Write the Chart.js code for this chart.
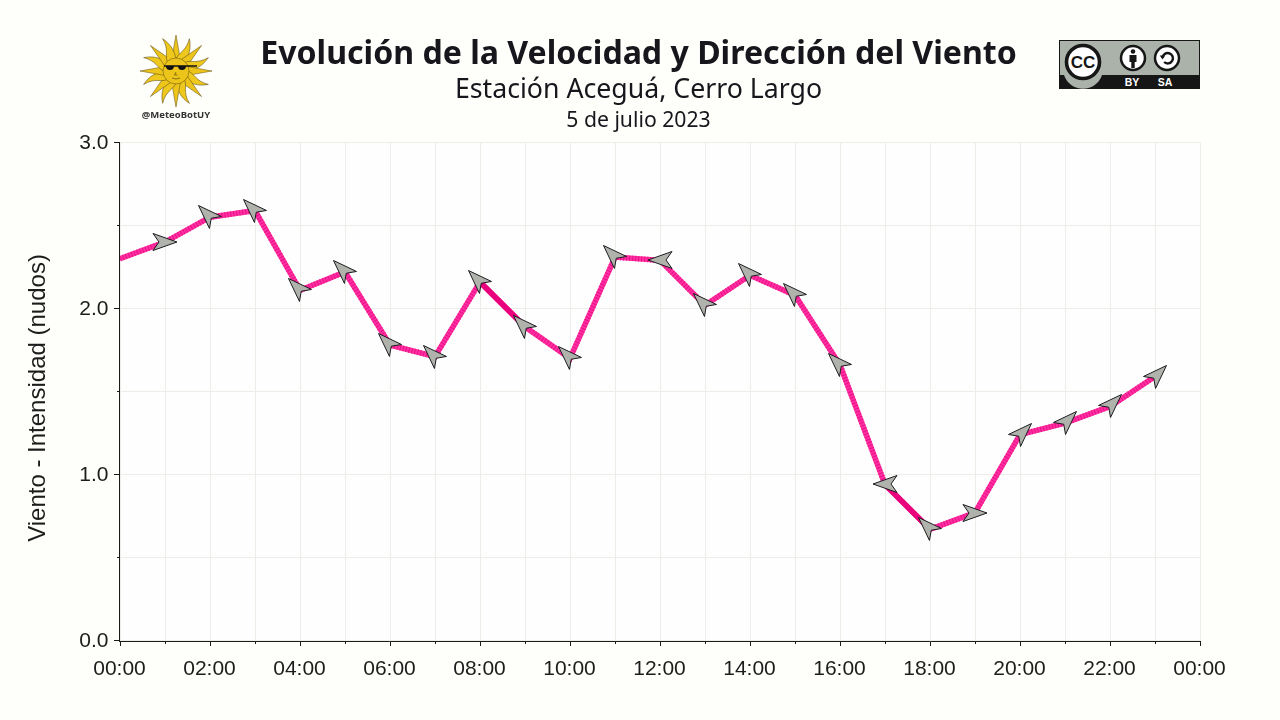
<!DOCTYPE html>
<html lang="es">
<head>
<meta charset="utf-8">
<title>Viento</title>
<script src="https://cdn.jsdelivr.net/npm/chart.js@4"></script>
<style>
  html, body { margin: 0; padding: 0; background: #fefefa; width: 1280px; height: 720px; overflow: hidden; }
  #grafico { position: absolute; left: 0; top: 0; }
  .txt { position: absolute; left: 0; width: 1277px; text-align: center; color: #16161c; font-family: "Noto Sans", sans-serif; white-space: nowrap; }
  #t1 { top: 30px; height: 44px; line-height: 44px; font-size: 32.1px; font-weight: 700; }
  #t2 { top: 70px; height: 36px; line-height: 36px; font-size: 26.7px; }
  #t3 { top: 105px; height: 28px; line-height: 28px; font-size: 21.2px; }
  #ejeY { position: absolute; left: 37px; top: 398px; width: 400px; height: 30px; line-height: 30px; margin: -15px 0 0 -200px; text-align: center;
          transform: rotate(-90deg); font: 24px "Liberation Sans", sans-serif; line-height: 30px; color: #1c1c1c; }
  svg { position: absolute; }
</style>
</head>
<body>
<canvas id="grafico" width="1280" height="720"></canvas>
<div class="txt" id="t1">Evolución de la Velocidad y Dirección del Viento</div>
<div class="txt" id="t2">Estación Aceguá, Cerro Largo</div>
<div class="txt" id="t3">5 de julio 2023</div>
<div id="ejeY">Viento - Intensidad (nudos)</div>

<svg id="sol" style="left:130px;top:30px" width="92" height="94" viewBox="130 30 92 94"></svg>
<svg style="left:1059px;top:40px" width="141" height="49" viewBox="0 0 141 49">
  <rect x="0.5" y="0.5" width="140" height="48" fill="#aab2aa" stroke="#161616"/>
  <rect x="0" y="35" width="141" height="14" fill="#161616"/>
  <path d="M5 35 a20 20 0 0 0 38 0 z" fill="#aab2aa"/>
  <circle cx="24" cy="22" r="16.5" fill="#fff" stroke="#161616" stroke-width="3.6"/>
  <text x="24" y="28" text-anchor="middle" font-family="Liberation Sans" font-weight="700" font-size="17" fill="#161616">CC</text>
  <circle cx="74" cy="18" r="12" fill="#fff" stroke="#161616" stroke-width="2.5"/>
  <circle cx="74" cy="11.5" r="2.3" fill="#161616"/>
  <path d="M70.5 15 h7 v7 h-1.8 v6 h-3.4 v-6 h-1.8 z" fill="#161616"/>
  <circle cx="108" cy="18" r="12" fill="#fff" stroke="#161616" stroke-width="2.5"/>
  <path d="M103.5 18 a5.2 5.2 0 1 1 1.6 4" fill="none" stroke="#161616" stroke-width="2.4"/>
  <path d="M100.8 15.5 h5.4 l-2.7 4 z" fill="#161616"/>
  <text x="73" y="46" text-anchor="middle" font-family="Liberation Sans" font-weight="700" font-size="10.5" fill="#fff">BY</text>
  <text x="106" y="46" text-anchor="middle" font-family="Liberation Sans" font-weight="700" font-size="10.5" fill="#fff">SA</text>
</svg>

<script>
// datos
const horas = [0, 1, 2, 3, 4, 5, 6, 7, 8, 9, 10, 11, 12, 13, 14, 15, 16, 17, 18, 19, 20, 21, 22, 23];
const velocidad = [2.30, 2.40, 2.55, 2.59, 2.11, 2.22, 1.78, 1.71, 2.16, 1.89, 1.70, 2.31, 2.29, 2.02, 2.20, 2.08, 1.66, 0.94, 0.67, 0.77, 1.24, 1.31, 1.41, 1.59];
// hacia donde apunta la flecha, en grados de canvas (0 = derecha, sentido horario)
const direccion = [null, 0, 225, 225, 225, 225, 225, 225, 225, 225, 225, 225, 180, 225, 225, 225, 225, 180, 225, 0, 315, 315, 315, 315];
const etiquetasX = ['00:00', '', '02:00', '', '04:00', '', '06:00', '', '08:00', '', '10:00', '', '12:00', '', '14:00', '', '16:00', '', '18:00', '', '20:00', '', '22:00', '', '00:00'];
const etiquetasY = ['0.0', '', '1.0', '', '2.0', '', '3.0'];
// tramos sin rayado, mas oscuros
const tramosOscuros = [8, 17];

const puntos = horas.map((h, i) => ({ x: h, y: velocidad[i] }));

// en el original la flecha ya rotada se centra por su caja, no por su eje
function crearFlecha(grados) {
    const r = grados * Math.PI / 180;
    const forma = [[12, 0], [-12, -8.5], [-6, 0], [-12, 8.5]];
    const pts = forma.map(([a, b]) => [a * Math.cos(r) - b * Math.sin(r), a * Math.sin(r) + b * Math.cos(r)]);
    const xs = pts.map(p => p[0]), ys = pts.map(p => p[1]);
    const dx = (Math.min(...xs) + Math.max(...xs)) / 2;
    const dy = (Math.min(...ys) + Math.max(...ys)) / 2;
    const c = document.createElement('canvas');
    c.width = 40;
    c.height = 40;
    const g = c.getContext('2d');
    g.translate(20 - dx, 20 - dy);
    g.beginPath();
    pts.forEach((p, i) => i ? g.lineTo(p[0], p[1]) : g.moveTo(p[0], p[1]));
    g.closePath();
    g.fillStyle = '#b0b2ac';
    g.fill();
    g.lineWidth = 1;
    g.strokeStyle = '#1c1c20';
    g.lineJoin = 'miter';
    g.stroke();
    return c;
}
const flechas = {};
direccion.forEach(d => {
    if (d !== null && !flechas[d]) flechas[d] = crearFlecha(d);
});

// fondo del area, ejes, marcas (largas y cortas) y flechas en pixel entero para que no salgan borrosas
const marcas = {
    id: 'marcas',
    beforeDraw(chart) {
        const a = chart.chartArea;
        chart.ctx.save();
        chart.ctx.fillStyle = '#fefeff';
        chart.ctx.fillRect(a.left, a.top, a.right - a.left, a.bottom - a.top);
        chart.ctx.restore();
    },
    afterDatasetsDraw(chart) {
        chart.getDatasetMeta(0).data.forEach((p, i) => {
            if (direccion[i] !== null) {
                chart.ctx.drawImage(flechas[direccion[i]], Math.round(p.x) - 20, Math.round(p.y) - 20);
            }
        });
    },
    afterDraw(chart) {
        const g = chart.ctx;
        const { x, y } = chart.scales;
        g.save();
        g.strokeStyle = '#1a1a1a';
        g.lineWidth = 1;
        g.beginPath();
        g.moveTo(119.5, 142);
        g.lineTo(119.5, 642);
        g.moveTo(119, 641.5);
        g.lineTo(1201, 641.5);
        x.ticks.forEach(t => {
            const px = Math.round(x.getPixelForValue(t.value)) + 0.5;
            g.moveTo(px, 642);
            g.lineTo(px, t.value % 2 === 0 ? 646 : 644);
        });
        y.ticks.forEach(t => {
            const py = Math.floor(y.getPixelForValue(t.value)) + 0.5;
            g.moveTo(119, py);
            g.lineTo(t.value % 1 === 0 ? 114 : 117, py);
        });
        g.stroke();
        g.restore();
    }
};

new Chart(document.getElementById('grafico').getContext('2d'), {
    type: 'line',
    data: {
        datasets: [
            {
                // rayado, encima de la linea base
                data: puntos,
                borderColor: '#ee0f88',
                borderWidth: 5.5,
                borderDash: [1, 2],
                borderCapStyle: 'butt',
                tension: 0,
                segment: {
                    borderDash: ctx => tramosOscuros.includes(ctx.p0DataIndex) ? [] : [1, 2],
                    borderColor: ctx => tramosOscuros.includes(ctx.p0DataIndex) ? '#e8007c' : '#ee0f88'
                },
                pointRadius: 0
            },
            {
                data: puntos,
                borderColor: '#ff30a0',
                borderWidth: 5.5,
                tension: 0,
                pointRadius: 0
            }
        ]
    },
    options: {
        responsive: false,
        animation: false,
        layout: { padding: { top: 142.5, right: 80, left: 0, bottom: 0 } },
        plugins: { legend: { display: false }, tooltip: { enabled: false } },
        scales: {
            x: {
                type: 'linear',
                min: 0,
                max: 24,
                afterFit: s => { s.height = 79.5; },
                border: { display: false },
                grid: { color: '#eeeee8', lineWidth: 1, drawTicks: false },
                ticks: {
                    stepSize: 1,
                    autoSkip: false,
                    maxRotation: 0,
                    padding: 16,
                    labelOffset: -0.5,
                    color: '#1c1c1c',
                    font: { family: '"Liberation Sans"', size: 21 },
                    callback: v => etiquetasX[v]
                }
            },
            y: {
                min: 0,
                max: 3,
                afterFit: s => { s.width = 120; },
                border: { display: false },
                grid: { color: '#eeeee8', lineWidth: 1, drawTicks: false },
                ticks: {
                    stepSize: 0.5,
                    autoSkip: false,
                    padding: 11.5,
                    labelOffset: 1,
                    color: '#1c1c1c',
                    font: { family: '"Liberation Sans"', size: 21 },
                    callback: v => etiquetasY[Math.round(v * 2)]
                }
            }
        }
    },
    plugins: [marcas]
});

// logo del sol
(function () {
    const cx = 176, cy = 71;
    const svg = document.getElementById('sol');
    let h = '';
    for (let i = 0; i < 16; i++) {
        const a = i * 22.5;
        if (i % 2 === 0) {
            h += `<path transform="rotate(${a} ${cx} ${cy})" d="M${cx - 4.5} ${cy - 11} L${cx} ${cy - 36} L${cx + 4.5} ${cy - 11} Z" fill="#edc41a" stroke="#5a4a10" stroke-width="0.5"/>`;
        } else {
            h += `<path transform="rotate(${a} ${cx} ${cy})" d="M${cx - 4.5} ${cy - 11} C${cx - 5} ${cy - 18} ${cx + 2} ${cy - 22} ${cx} ${cy - 35} C${cx + 6} ${cy - 26} ${cx + 6} ${cy - 18} ${cx + 4.5} ${cy - 11} Z" fill="#efc81e" stroke="#5a4a10" stroke-width="0.5"/>`;
        }
    }
    h += `<circle cx="${cx}" cy="${cy}" r="13" fill="#edc41a" stroke="#5a4a10" stroke-width="0.5"/>`;
    h += `<path d="M164 66 H197" stroke="#111" stroke-width="1.4"/>`;
    h += `<path d="M166 66 h8 q0 4 -4 4 q-4 0 -4 -4 z M178 66 h8 q0 4 -4 4 q-4 0 -4 -4 z" fill="#111"/>`;
    h += `<path d="M176 72 l-1.5 3 h3 M172 78 q4 2 8 0" fill="none" stroke="#5a4a10" stroke-width="0.7"/>`;
    h += `<text x="176" y="118" text-anchor="middle" font-family="Noto Sans" font-weight="700" font-size="9.5" fill="#333">@MeteoBotUY</text>`;
    svg.innerHTML = h;
})();
</script>
</body>
</html>
